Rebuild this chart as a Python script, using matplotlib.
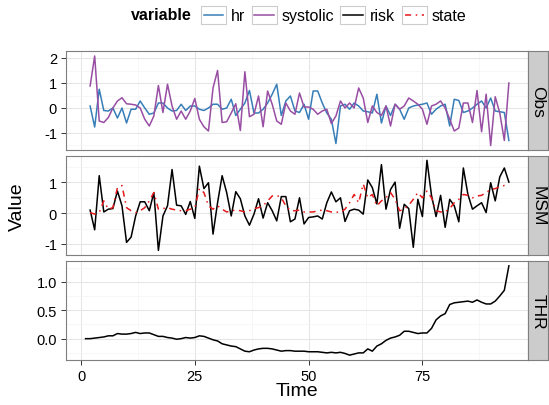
import matplotlib
matplotlib.use("Agg")
import matplotlib.pyplot as plt
from matplotlib.lines import Line2D
from matplotlib.patches import Rectangle
from matplotlib.legend_handler import HandlerLine2D
from matplotlib.ticker import FormatStrFormatter

plt.rcParams['font.family'] = ['Liberation Sans', 'DejaVu Sans']
plt.rcParams['axes.unicode_minus'] = False

# --- data ----------------------------------------------------------------
time_obs = list(range(2, 95))   # Obs and MSM panels
time_thr = list(range(1, 95))   # THR panel

hr = [0.08, -0.76, 0.75, -0.10, -0.12, 0.00, -0.40, 0.00, -0.60, -0.05,
      -0.05, 0.28, 0.00, -0.25, -0.20, 0.20, 0.20, 0.00, -0.12, -0.10,
      0.15, -0.10, 0.08, 0.08, -0.05, -0.10, 0.00, 0.15, 0.15, -0.05,
      0.00, 0.35, -0.30, -0.05, 0.20, 0.70, -0.20, -0.20, -0.05, 0.20,
      0.55, 0.95, -0.30, 0.28, 0.48, -0.12, -0.18, 0.15, -0.45, 0.68,
      0.68, 0.20, -0.20, -0.45, -1.42, 0.08, 0.15, -0.05, 0.20, 0.08,
      -0.12, -0.15, -0.20, 0.55, -0.60, 0.08, -0.30, 0.15, -0.05, -0.45,
      0.00, 0.08, 0.12, 0.15, 0.20, -0.25, -0.05, 0.08, 0.15, -0.72,
      0.35, 0.30, -0.18, -0.12, 0.00, 0.15, 0.28, 0.00, 0.40, -0.12,
      -0.15, -0.18, -1.30]

systolic = [0.88, 2.08, -0.52, -0.58, -0.38, 0.00, 0.28, 0.41, 0.17, 0.15,
            0.12, 0.00, -0.45, -0.72, -0.32, 0.90, -0.18, 0.95, 0.08, -0.45,
            -0.12, -0.45, -0.12, 0.38, -0.45, -0.75, -0.92, 0.80, 1.50, -0.58,
            -0.55, -0.20, 0.17, -0.90, 1.45, -0.35, -0.25, 0.48, -0.75, 0.68,
            0.15, -0.52, -0.65, 0.20, -0.12, -0.25, 0.60, 0.04, 0.04, -0.05,
            -0.25, -0.12, -0.05, -0.62, -0.32, 0.28, 0.00, 0.20, 0.00, 0.80,
            0.40, -0.58, 0.08, -0.18, -0.30, 0.08, -0.72, 0.15, -0.05, 0.08,
            0.40, 0.28, 0.15, -0.05, -0.65, 0.08, 0.15, 0.28, 0.00, -0.45,
            -0.92, -0.80, 0.20, 0.20, -0.58, 0.70, -0.95, 0.55, -1.50, 0.45,
            -0.20, -1.30, 1.00]

risk = [0.10, -0.54, 1.22, 0.04, 0.13, 0.15, 0.72, 0.24, -0.95, -0.78,
        -0.09, 0.37, 0.37, 0.08, 0.67, -1.21, -0.09, 0.24, 1.42, 0.26,
        0.24, -0.04, 0.38, -0.17, 1.53, 0.80, 0.99, -0.68, 0.34, 1.22,
        0.67, -0.09, 0.70, 0.47, -0.09, -0.39, -0.03, 0.47, -0.16, 0.34,
        0.08, -0.25, 0.54, 0.54, -0.28, -0.19, 0.50, -0.35, -0.14, -0.12,
        -0.09, -0.19, 0.34, 0.69, 0.37, 0.50, -0.27, 0.08, 0.13, 0.10,
        -0.03, 1.08, 0.83, 0.30, 1.58, 0.13, 0.77, 1.01, -0.49, 0.29,
        0.15, -1.11, 0.45, -0.11, 1.72, 0.58, -0.11, 0.58, -0.46, 0.45,
        0.24, -0.28, 1.47, 0.61, 0.13, 0.24, 0.34, 0.02, 0.99, 0.40,
        1.18, 1.47, 1.01]

state = [0.02, -0.03, 0.02, 0.40, 0.13, 0.18, 0.83, 0.90, 0.18, 0.08,
         0.02, 0.08, 0.18, 0.40, 0.67, 0.13, 0.15, 0.18, 0.13, 0.10,
         0.08, 0.08, 0.13, 0.18, 0.80, 0.67, 0.24, 0.13, 0.24, 0.13,
         0.04, 0.08, 0.10, 0.08, 0.04, 0.08, 0.15, 0.18, 0.24, 0.40,
         0.56, 0.58, 0.50, 0.24, 0.08, 0.08, 0.10, 0.04, 0.04, 0.04,
         0.08, 0.10, 0.08, 0.04, 0.04, 0.02, 0.13, 0.34, 0.61, 0.34,
         0.95, 0.50, 0.61, 0.24, 0.40, 0.50, 0.67, 0.45, 0.08, 0.13,
         0.26, 0.45, 0.67, 0.50, 0.72, 0.50, 0.08, 0.04, 0.04, 0.15,
         0.34, 0.45, 0.61, 0.58, 0.50, 0.56, 0.58, 0.67, 0.77, 0.80,
         0.86, 0.90, 0.88]

thr = [0.00, 0.00, 0.01, 0.02, 0.03, 0.05, 0.05, 0.09, 0.08, 0.08,
       0.09, 0.11, 0.09, 0.10, 0.10, 0.07, 0.04, 0.04, 0.02, 0.01,
       -0.01, 0.00, 0.02, 0.01, 0.02, 0.05, 0.04, 0.01, -0.02, -0.04,
       -0.09, -0.11, -0.13, -0.14, -0.18, -0.22, -0.23, -0.20, -0.18, -0.17,
       -0.17, -0.18, -0.20, -0.22, -0.21, -0.21, -0.22, -0.22, -0.22, -0.23,
       -0.23, -0.23, -0.24, -0.25, -0.24, -0.25, -0.24, -0.26, -0.29, -0.27,
       -0.25, -0.25, -0.18, -0.22, -0.13, -0.09, -0.03, 0.01, 0.03, 0.06,
       0.13, 0.13, 0.11, 0.09, 0.10, 0.10, 0.18, 0.33, 0.40, 0.44,
       0.60, 0.63, 0.64, 0.65, 0.66, 0.64, 0.68, 0.64, 0.61, 0.61,
       0.66, 0.75, 0.85, 1.28]

x_ticks = [0, 25, 50, 75]

# --- figure layout (pixel boxes -> figure fractions) -----------------------
W, H = 549, 406
fig = plt.figure(figsize=(W / 100, H / 100), dpi=100)


def box(x0, y0, x1, y1):
    return [x0 / W, 1 - y1 / H, (x1 - x0) / W, (y1 - y0) / H]


def style(ax, ylim, yticks, yminor, show_x=False):
    ax.set_xlim(-3.3, 98.2)
    ax.set_ylim(ylim)
    ax.set_xticks(x_ticks)
    ax.set_xticks([12.5, 37.5, 62.5, 87.5], minor=True)
    ax.set_yticks(yticks)
    ax.set_yticks(yminor, minor=True)
    ax.grid(which='major', color='#E5E5E5', linewidth=0.75)
    ax.grid(which='minor', color='#F4F4F4', linewidth=0.5)
    ax.set_axisbelow(True)
    for s in ax.spines.values():
        s.set_color('#7F7F7F')
        s.set_linewidth(0.8)
    ax.tick_params(which='major', length=3.5, width=0.7, color='#333333',
                   labelsize=10.5, labelcolor='black', pad=3)
    ax.tick_params(which='minor', length=0)
    if not show_x:
        ax.tick_params(axis='x', bottom=False, labelbottom=False)


def strip(y0, y1, label):
    s = fig.add_axes(box(528, y0, 548, y1))
    s.set_facecolor('#CCCCCC')
    s.set_xticks([])
    s.set_yticks([])
    for sp in s.spines.values():
        sp.set_color('#7F7F7F')
        sp.set_linewidth(0.8)
    s.text(0.5, 0.5, label, rotation=-90, ha='center', va='center',
           fontsize=12.5, transform=s.transAxes)


# Obs panel
ax1 = fig.add_axes(box(66, 52, 528, 151))
l_hr, = ax1.plot(time_obs, hr, color='#377EB8', lw=1.1, label='hr')
l_sys, = ax1.plot(time_obs, systolic, color='#984EA3', lw=1.1, label='systolic')
style(ax1, (-1.68, 2.28), [-1, 0, 1, 2], [-1.5, -0.5, 0.5, 1.5])
strip(52, 151, 'Obs')

# MSM panel
ax2 = fig.add_axes(box(66, 157, 528, 256))
l_risk, = ax2.plot(time_obs, risk, color='black', lw=1.1, label='risk')
l_state, = ax2.plot(time_obs, state, color='#E41A1C', lw=1.1,
                    linestyle=(0, (4, 3, 1, 3)), label='state')
style(ax2, (-1.36, 1.86), [-1, 0, 1], [-0.5, 0.5, 1.5])
strip(157, 256, 'MSM')

# THR panel
ax3 = fig.add_axes(box(66, 262, 528, 361))
ax3.plot(time_thr, thr, color='black', lw=1.1)
style(ax3, (-0.375, 1.365), [0.0, 0.5, 1.0], [-0.25, 0.25, 0.75, 1.25], show_x=True)
ax3.yaxis.set_major_formatter(FormatStrFormatter('%.1f'))
strip(262, 361, 'THR')

fig.text(297 / W, 1 - 392 / H, 'Time', ha='center', va='center', fontsize=14)
fig.text(17 / W, 1 - 207 / H, 'Value', ha='center', va='center',
         rotation=90, fontsize=14)


# legend keys drawn as ggplot-like grey boxes around the line sample
class BoxedLine(HandlerLine2D):
    def create_artists(self, legend, orig_handle, xdescent, ydescent,
                       width, height, fontsize, trans):
        frame = Rectangle((-xdescent, -ydescent), width, height,
                          facecolor='white', edgecolor='#CCCCCC',
                          linewidth=0.8, transform=trans)
        yc = -ydescent + height / 2
        ln = Line2D([-xdescent + 2, -xdescent + width - 2], [yc, yc])
        self.update_prop(ln, orig_handle, legend)
        ln.set_transform(trans)
        return [frame, ln]


fig.text(161 / W, 1 - 16 / H, 'variable', ha='center', va='center',
         fontsize=11.5, fontweight='bold')
fig.legend(handles=[l_hr, l_sys, l_risk, l_state], loc='center left',
           bbox_to_anchor=(201 / W, 1 - 16 / H), ncol=4, frameon=False,
           handler_map={Line2D: BoxedLine()}, handlelength=1.57,
           handleheight=1.43, handletextpad=0.3, columnspacing=0.4,
           borderpad=0, borderaxespad=0, fontsize=11.5)

fig.savefig('out.png', dpi=100)
